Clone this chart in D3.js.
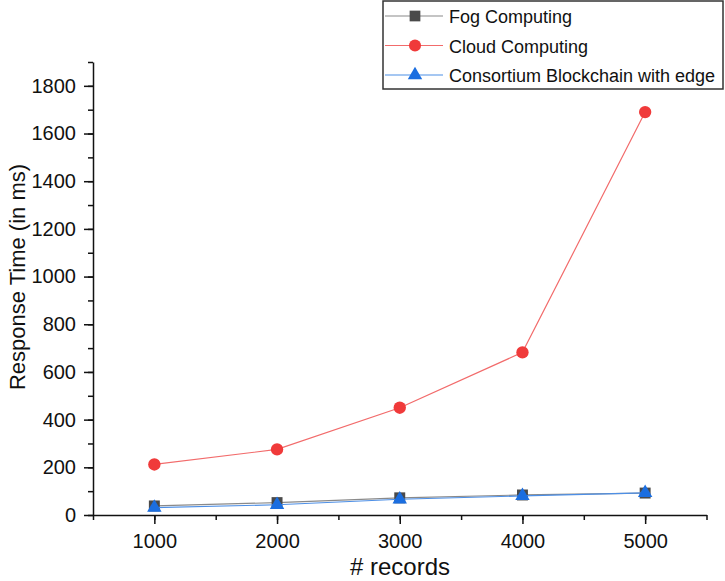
<!DOCTYPE html>
<html>
<head>
<meta charset="utf-8">
<script src="https://cdn.jsdelivr.net/npm/d3@7"></script>
<style>
  body { margin: 0; background: #fff; }
  text { font-family: "Liberation Sans", Arial, sans-serif; fill: #111; }
</style>
</head>
<body>
<svg width="725" height="581"></svg>
<script>
// data
var records = [1000, 2000, 3000, 4000, 5000];
var fogValues = [38, 52, 72, 84, 92];
var cloudValues = [212, 275, 450, 682, 1690];
var chainValues = [31, 43, 66, 80, 93];
var seriesNames = ["Fog Computing", "Cloud Computing", "Consortium Blockchain with edge"];
var xTicks = [1000, 2000, 3000, 4000, 5000];
var yTicks = [0, 200, 400, 600, 800, 1000, 1200, 1400, 1600, 1800];

var svg = d3.select("svg");

var x = d3.scaleLinear().domain([500, 5500]).range([93, 706.5]);
var y = d3.scaleLinear().domain([0, 1900]).range([515, 62]);

var series = [
  { name: seriesNames[0], values: fogValues, line: "#8a8a8a", fill: "#4a4a4a", shape: d3.symbolSquare },
  { name: seriesNames[1], values: cloudValues, line: "#f26b6b", fill: "#f03a3a", shape: d3.symbolCircle },
  { name: seriesNames[2], values: chainValues, line: "#4d8fe6", fill: "#1b6ee0", shape: d3.symbolTriangle }
];

// minor ticks
var xMinor = d3.axisBottom(x).tickValues(d3.range(500, 5501, 500)).tickSize(5).tickFormat("");
var yMinor = d3.axisLeft(y).tickValues(d3.range(0, 1901, 100)).tickSize(5).tickFormat("");

svg.append("g").attr("transform", "translate(0,515)").call(xMinor)
  .call(function(g) { g.select(".domain").remove(); })
  .selectAll("line").attr("stroke", "#111").attr("stroke-width", 1.5);
svg.append("g").attr("transform", "translate(93,0)").call(yMinor)
  .call(function(g) { g.select(".domain").remove(); })
  .selectAll("line").attr("stroke", "#111").attr("stroke-width", 1.5);

var xAxis = d3.axisBottom(x).tickValues(xTicks).tickSize(9).tickSizeOuter(0).tickPadding(10).tickFormat(d3.format("d"));
var yAxis = d3.axisLeft(y).tickValues(yTicks).tickSize(9).tickSizeOuter(0).tickPadding(8).tickFormat(d3.format("d"));

var gx = svg.append("g").attr("transform", "translate(0,515)").call(xAxis);
var gy = svg.append("g").attr("transform", "translate(93,0)").call(yAxis);

[gx, gy].forEach(function(g) {
  g.select(".domain").attr("stroke", "#111").attr("stroke-width", 1.5);
  g.selectAll(".tick line").attr("stroke", "#111").attr("stroke-width", 1.5);
  g.selectAll(".tick text").attr("font-size", 20).attr("font-family", "Liberation Sans, Arial, sans-serif").attr("fill", "#111");
});

svg.append("text")
  .attr("x", 400).attr("y", 575)
  .attr("text-anchor", "middle")
  .attr("font-size", 24)
  .text("# records");

svg.append("text")
  .attr("transform", "translate(25,277) rotate(-90)")
  .attr("text-anchor", "middle")
  .attr("font-size", 22)
  .text("Response Time (in ms)");

var line = d3.line()
  .x(function(d, i) { return x(records[i]); })
  .y(function(d) { return y(d); });

series.forEach(function(s) {
  svg.append("path")
    .datum(s.values)
    .attr("d", line)
    .attr("fill", "none")
    .attr("stroke", s.line)
    .attr("stroke-width", 1.2);

  svg.selectAll(null)
    .data(s.values)
    .enter().append("path")
    .attr("transform", function(d, i) { return "translate(" + x(records[i]) + "," + y(d) + ")"; })
    .attr("d", d3.symbol().type(s.shape).size(s.shape === d3.symbolTriangle ? 90 : 120))
    .attr("fill", s.fill);
});

// legend
var legend = svg.append("g");
legend.append("rect")
  .attr("x", 383).attr("y", 1)
  .attr("width", 340).attr("height", 88)
  .attr("fill", "#fff")
  .attr("stroke", "#333")
  .attr("stroke-width", 1.5);

series.forEach(function(s, i) {
  var cy = 16 + i * 29.5;
  legend.append("line")
    .attr("x1", 385).attr("x2", 443)
    .attr("y1", cy).attr("y2", cy)
    .attr("stroke", s.line).attr("stroke-width", 1.2);
  legend.append("path")
    .attr("transform", "translate(415," + cy + ")")
    .attr("d", d3.symbol().type(s.shape).size(s.shape === d3.symbolTriangle ? 90 : 115))
    .attr("fill", s.fill);
  legend.append("text")
    .attr("x", 449).attr("y", cy + 7)
    .attr("font-size", 18)
    .text(s.name);
});
</script>
</body>
</html>
